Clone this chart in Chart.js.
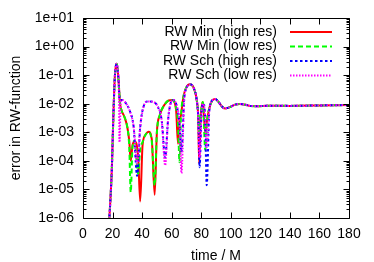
<!DOCTYPE html>
<html>
<head>
<meta charset="utf-8">
<script src="https://cdn.jsdelivr.net/npm/chart.js@4"></script>
<style>
html,body{margin:0;padding:0;background:#fff;}
#wrap{width:374px;height:262px;}
</style>
</head>
<body>
<div id="wrap"><canvas id="c" width="374" height="262"></canvas></div>
<script>
// ---- data ----
const seriesNames = ['RW Min (high res)', 'RW Min (low res)', 'RW Sch (high res)', 'RW Sch (low res)'];

const tMin = [17.5, 18.5, 19.5, 20.5, 21.5, 22.3, 22.8, 23.5, 24.2, 25, 26, 28, 30, 31.3, 32.3, 33.5, 34.8, 37.3, 38.7, 40.3, 42.5, 44.3, 46.5, 48.5, 50, 52, 55, 58, 60.5, 63, 64.3, 65.3, 66.3, 68, 70, 72.4, 75, 77, 78, 78.6, 79.6, 81.1, 82.7, 84.1, 85.5, 87.5, 89.5, 92, 94, 96, 99, 103, 106, 110, 113, 118, 125, 140, 160, 180];
const minHigh = [5e-7, 4e-6, 5e-5, 3e-3, 0.08, 0.22, 0.25, 0.15, 0.05, 0.011, 6e-3, 3.5e-3, 1.5e-3, 5e-4, 1e-4, 3.5e-4, 4.8e-4, 1.5e-4, 3.8e-6, 3.5e-4, 8.5e-4, 1.05e-3, 6e-4, 6.5e-6, 1e-3, 4e-3, 9e-3, 1.3e-2, 1.35e-2, 6e-3, 4e-4, 2.5e-3, 4e-3, 1.8e-2, 3.8e-2, 4.8e-2, 3.5e-2, 1.3e-2, 3e-3, 8e-5, 3e-3, 1.15e-2, 1e-3, 3e-3, 7e-3, 1.3e-2, 1.45e-2, 1.1e-2, 8e-3, 6.8e-3, 7.5e-3, 9.3e-3, 9.8e-3, 9.2e-3, 8.4e-3, 8.2e-3, 8.5e-3, 8.4e-3, 8.7e-3, 9e-3];
const minLow = [5e-7, 4e-6, 5e-5, 3e-3, 0.08, 0.22, 0.25, 0.15, 0.05, 0.011, 6e-3, 3.5e-3, 1.5e-3, 3e-4, 8e-6, 3e-4, 5e-4, 3.5e-5, 2.5e-4, 4.5e-4, 8.5e-4, 1e-3, 5e-4, 1.4e-5, 1e-3, 4e-3, 9e-3, 1.3e-2, 1.35e-2, 7e-3, 2e-3, 9e-5, 3.5e-3, 1.8e-2, 3.8e-2, 4.8e-2, 3.5e-2, 1.3e-2, 4e-3, 1e-3, 4e-3, 1.15e-2, 2.4e-4, 3e-3, 7e-3, 1.3e-2, 1.45e-2, 1.1e-2, 8e-3, 6.8e-3, 7.5e-3, 9.3e-3, 9.8e-3, 9.2e-3, 8.4e-3, 8.2e-3, 8.5e-3, 8.4e-3, 8.7e-3, 9e-3];

const tSch = [17.5, 18.5, 19.5, 20.5, 21.5, 22.3, 22.8, 23.5, 24.2, 24.7, 25.5, 26.5, 29, 32, 34.3, 36.6, 38.7, 41, 44, 47.5, 50.5, 53.3, 55.6, 57.5, 59, 61, 63.5, 65.5, 66.6, 68.5, 70, 72.4, 75, 77, 78, 78.9, 80.2, 81.4, 82.6, 83.7, 85.5, 87.5, 89.5, 92, 94, 96, 99, 103, 106, 110, 113, 118, 125, 140, 160, 180];
const schHigh = [5e-7, 4e-6, 5e-5, 3e-3, 0.08, 0.22, 0.25, 0.15, 0.05, 1.6e-2, 1.35e-2, 1.35e-2, 1.05e-2, 5e-3, 1.5e-3, 3e-5, 1.5e-3, 8e-3, 1.2e-2, 1.15e-2, 8e-3, 2.5e-3, 1.3e-4, 2.5e-3, 9e-3, 1.35e-2, 8e-3, 1.5e-3, 2e-4, 1.5e-2, 3.5e-2, 4.8e-2, 3.5e-2, 1.3e-2, 3e-3, 6e-5, 5e-3, 1e-2, 4e-3, 1.4e-5, 6e-3, 1.3e-2, 1.45e-2, 1.1e-2, 8e-3, 6.8e-3, 7.5e-3, 9.3e-3, 9.8e-3, 9.2e-3, 8.4e-3, 8.2e-3, 8.5e-3, 8.4e-3, 8.7e-3, 9e-3];
const schLow = [5e-7, 4e-6, 5e-5, 3e-3, 0.08, 0.22, 0.25, 0.15, 0.05, 4.5e-4, 1.2e-2, 1.35e-2, 1.05e-2, 5e-3, 1.5e-3, 8e-5, 1.5e-3, 8e-3, 1.2e-2, 1.15e-2, 8e-3, 2.5e-3, 7e-5, 2.5e-3, 9e-3, 1.35e-2, 8e-3, 1.5e-3, 3.7e-5, 1.5e-2, 3.5e-2, 4.8e-2, 3.5e-2, 1.3e-2, 3e-3, 1.3e-4, 5e-3, 1e-2, 4e-3, 3e-4, 6e-3, 1.3e-2, 1.45e-2, 1.1e-2, 8e-3, 6.8e-3, 7.5e-3, 9.3e-3, 9.8e-3, 9.2e-3, 8.4e-3, 8.2e-3, 8.5e-3, 8.4e-3, 8.7e-3, 9e-3];

const xTickValues = [0, 20, 40, 60, 80, 100, 120, 140, 160, 180];
const yTickValues = [1e-6, 1e-5, 1e-4, 1e-3, 1e-2, 1e-1, 1e0, 1e1];
const yTickLabels = ['1e-06', '1e-05', '1e-04', '1e-03', '1e-02', '1e-01', '1e+00', '1e+01'];
const xTitle = 'time / M';
const yTitle = 'error in RW-function';

// ---- build ----
const pts = (t, v) => t.map((x, i) => ({x: x, y: v[i]}));
const FONT = 'Liberation Sans, Arial, sans-serif';
const FS = 14;

const styles = [
  {color: '#ff0000', dash: []},
  {color: '#00ff00', dash: [5, 3]},
  {color: '#0000ff', dash: [2.5, 2.5]},
  {color: '#ff00ff', dash: [1.5, 1.5]}
];
const seriesData = [pts(tMin, minHigh), pts(tMin, minLow), pts(tSch, schHigh), pts(tSch, schLow)];

const datasets = seriesNames.map((name, i) => ({
  label: name,
  data: seriesData[i],
  borderColor: styles[i].color,
  backgroundColor: styles[i].color,
  borderDash: styles[i].dash,
  borderWidth: 2,
  pointRadius: 0,
  cubicInterpolationMode: 'monotone',
  fill: false,
  order: 4 - i
}));

const framePlugin = {
  id: 'frame',
  afterDraw(chart) {
    const {ctx, chartArea: a, scales: {x, y}} = chart;
    ctx.save();
    ctx.strokeStyle = '#000';
    ctx.lineWidth = 1;
    ctx.setLineDash([]);
    const L = Math.round(a.left) + 0.5, R = Math.round(a.right) + 0.5;
    const T = Math.round(a.top) + 0.5, B = Math.round(a.bottom) + 0.5;
    ctx.beginPath();
    ctx.rect(L, T, R - L, B - T);
    xTickValues.forEach(v => {
      const px = Math.round(x.getPixelForValue(v)) + 0.5;
      ctx.moveTo(px, B); ctx.lineTo(px, B - 6);
      ctx.moveTo(px, T); ctx.lineTo(px, T + 6);
    });
    yTickValues.forEach((v, k) => {
      const py = Math.round(y.getPixelForValue(v)) + 0.5;
      ctx.moveTo(L, py); ctx.lineTo(L + 6, py);
      ctx.moveTo(R, py); ctx.lineTo(R - 6, py);
      if (k < yTickValues.length - 1) {
        for (let m = 2; m <= 9; m++) {
          const pm = Math.round(y.getPixelForValue(v * m)) + 0.5;
          ctx.moveTo(L, pm); ctx.lineTo(L + 3, pm);
          ctx.moveTo(R, pm); ctx.lineTo(R - 3, pm);
        }
      }
    });
    ctx.stroke();

    ctx.font = FS + 'px ' + FONT;
    ctx.textAlign = 'right';
    ctx.textBaseline = 'middle';
    chart.data.datasets.forEach((ds, i) => {
      const yy = 32 + i * 14.5;
      ctx.fillStyle = '#000';
      ctx.fillText(ds.label, 277, yy);
      ctx.beginPath();
      ctx.strokeStyle = ds.borderColor;
      ctx.lineWidth = ds.borderWidth;
      ctx.setLineDash(ds.borderDash);
      ctx.moveTo(290, yy);
      ctx.lineTo(332, yy);
      ctx.stroke();
    });
    ctx.restore();
  }
};

new Chart(document.getElementById('c'), {
  type: 'line',
  data: {datasets: datasets},
  options: {
    responsive: false,
    animation: false,
    devicePixelRatio: 1,
    layout: {padding: {top: 18, right: 25, left: 0, bottom: 0}},
    plugins: {legend: {display: false}, tooltip: {enabled: false}},
    scales: {
      x: {
        type: 'linear',
        min: 0, max: 180,
        grid: {display: false, drawTicks: false},
        border: {display: false},
        afterBuildTicks: s => { s.ticks = xTickValues.map(v => ({value: v})); },
        afterFit: s => { s.height = 44; },
        ticks: {color: '#000', font: {family: FONT, size: FS}, padding: 8, maxRotation: 0, autoSkip: false,
                callback: v => String(v)},
        title: {display: true, text: xTitle, color: '#000', font: {family: FONT, size: FS}, padding: {top: 0, bottom: -3}}
      },
      y: {
        type: 'logarithmic',
        min: 1e-6, max: 1e1,
        grid: {display: false, drawTicks: false},
        border: {display: false},
        afterBuildTicks: s => { s.ticks = yTickValues.map(v => ({value: v})); },
        afterFit: s => { s.width = 83; },
        ticks: {color: '#000', font: {family: FONT, size: FS}, padding: 9, autoSkip: false,
                callback: (v, i) => yTickLabels[yTickValues.findIndex(t => Math.abs(Math.log10(t) - Math.log10(v)) < 1e-6)]},
        title: {display: true, text: yTitle, color: '#000', font: {family: FONT, size: FS}, padding: {top: 8, bottom: 0}}
      }
    }
  },
  plugins: [framePlugin]
});
</script>
</body>
</html>
